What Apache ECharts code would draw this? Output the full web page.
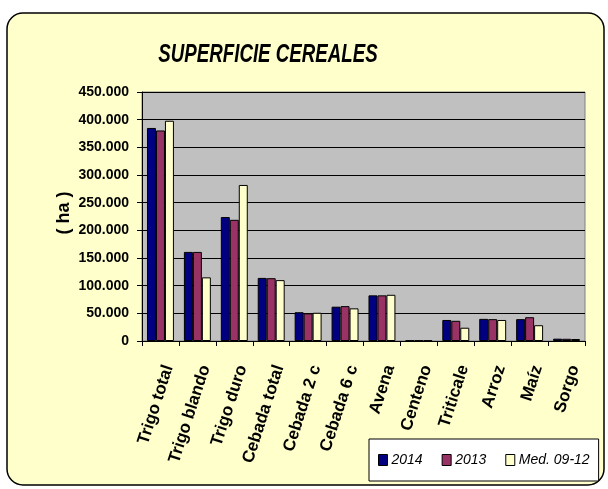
<!DOCTYPE html>
<html><head><meta charset="utf-8">
<script src="https://cdn.jsdelivr.net/npm/echarts@6/dist/echarts.min.js"></script>
<style>html,body{margin:0;padding:0;background:#fff}#c{width:608px;height:489px}</style>
</head><body><div id="c"></div>
<script>
const categories = ['Trigo total','Trigo blando','Trigo duro','Cebada total','Cebada 2 c','Cebada 6 c','Avena','Centeno','Triticale','Arroz','Maíz','Sorgo'];
const s2014 = [385000,161000,224000,114000,52000,62000,82500,1000,38000,40000,39500,4200];
const s2013 = [380500,161000,219000,113500,50000,63000,82500,1000,36500,39500,43000,4000];
const sMed  = [398000,115000,282000,110000,51000,59000,83500,1000,24000,38000,28500,3600];
const seriesNames = ['2014','2013','Med. 09-12'];
const yTicks = {min:0, max:450000, interval:50000};

const chart = echarts.init(document.getElementById('c'));
const fmt = v => v === 0 ? '0' : v.toLocaleString('de-DE');
const colors = ['#000080','#993366','#FFFFCC'];
const mk = (name, data, i) => ({
  name, type:'bar', data, barGap:0, barCategoryGap:'27%',
  itemStyle:{color:colors[i], borderColor:'#000', borderWidth:1}
});
chart.setOption({
  animation:false,
  graphic:[
    {type:'rect', z:-10, shape:{x:7,y:13,width:597,height:472,r:16}, style:{fill:'#FFFFCC', stroke:'#000', lineWidth:1.5}},
    {type:'text', x:268, y:55, scaleX:0.72, originX:0, originY:0,
      style:{text:'SUPERFICIE CEREALES', font:'italic bold 26px "Liberation Sans"', fill:'#000', align:'center', verticalAlign:'middle'}},
    {type:'text', x:64, y:213, rotation:Math.PI/2, style:{text:'( ha )', font:'bold 18px "Liberation Sans"', fill:'#000', align:'center', verticalAlign:'middle'}}
  ],
  legend:{
    data:seriesNames, left:369, top:439, orient:'horizontal',
    backgroundColor:'#fff', borderColor:'#000', borderWidth:1, padding:[14,9,14,9],
    itemWidth:9, itemHeight:11, itemGap:19, icon:'rect',
    itemStyle:{borderColor:'#000', borderWidth:1},
    textStyle:{fontFamily:'Liberation Sans', fontStyle:'italic', fontSize:14, color:'#000', padding:[0,0,0,-1]}
  },
  grid:{left:142, right:23, top:92, bottom:148, show:true, backgroundColor:'#C0C0C0', borderColor:'#808080', borderWidth:1},
  xAxis:{
    type:'category', data:categories,
    axisLine:{lineStyle:{color:'#000'}},
    axisTick:{show:true, length:5, lineStyle:{color:'#000'}},
    axisLabel:{rotate:72, interval:0, fontFamily:'Liberation Sans', fontWeight:'bold', fontSize:17, color:'#000', margin:22, verticalAlign:'top'}
  },
  yAxis:{
    type:'value', min:yTicks.min, max:yTicks.max, interval:yTicks.interval,
    axisLine:{show:true, lineStyle:{color:'#000'}},
    axisTick:{show:true, length:5, lineStyle:{color:'#000'}},
    splitLine:{lineStyle:{color:'#000', width:1}},
    axisLabel:{formatter:fmt, fontFamily:'Liberation Sans', fontWeight:'bold', fontSize:14, color:'#000', margin:13}
  },
  series:[mk(seriesNames[0], s2014, 0), mk(seriesNames[1], s2013, 1), mk(seriesNames[2], sMed, 2)]
});
</script></body></html>
